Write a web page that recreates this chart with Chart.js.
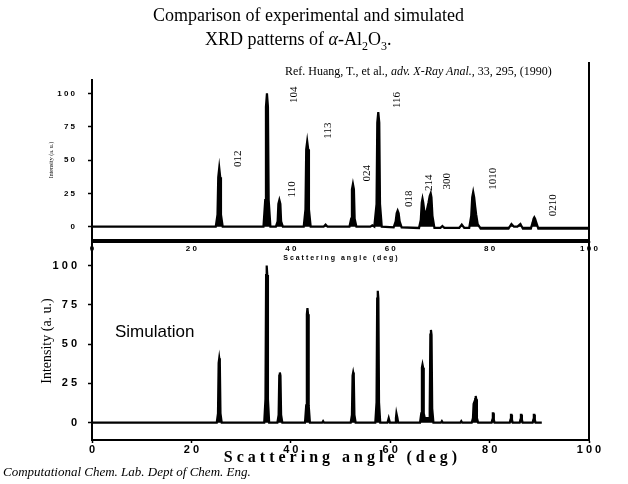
<!DOCTYPE html>
<html>
<head>
<meta charset="utf-8">
<script src="https://cdn.jsdelivr.net/npm/chart.js@4.4.1/dist/chart.umd.min.js"></script>
<style>
  body { margin: 0; background: #fff; }
  #wrap { position: relative; width: 628px; height: 484px; overflow: hidden; }
  canvas { position: absolute; left: 0; top: 0; }
  .txt { position: absolute; white-space: nowrap; color: #000; font-family: "Liberation Serif", "Times New Roman", serif; }
</style>
</head>
<body>
<div id="wrap">
  <canvas id="expChart" width="628" height="484"></canvas>
  <canvas id="simChart" width="628" height="484"></canvas>
  <div class="txt" style="left:153px; top:5px; font-size:18px;">Comparison of experimental and simulated</div>
  <div class="txt" style="left:205px; top:29px; font-size:18px;">XRD patterns of <i>α</i>-Al<sub style="font-size:12px">2</sub>O<sub style="font-size:12px">3</sub>.</div>
  <div class="txt" style="left:285px; top:64px; font-size:12px;">Ref. Huang, T., et al., <i>adv. X-Ray Anal.</i>, 33, 295, (1990)</div>
  <div class="txt" style="left:115px; top:322px; font-size:17px; font-family:'Liberation Sans', Arial, sans-serif;">Simulation</div>
  <div class="txt" style="left:3px; top:464px; font-size:13px; font-style:italic;">Computational Chem. Lab. Dept of Chem. Eng.</div>
</div>
<script>
// experimental pattern (top panel): angle (deg) and intensity (a.u.)
const expAngle = [0,
  24.9, 25.25, 25.4, 25.6, 25.8, 25.95, 26.3,
  34.5, 34.85, 35.0, 35.2, 35.4, 35.55, 35.9,
  37.0, 37.35, 37.5, 37.7, 37.9, 38.05, 38.4,
  42.6, 42.95, 43.1, 43.3, 43.5, 43.65, 44.0,
  46.6, 47.0, 47.4,
  51.8, 52.15, 52.3, 52.5, 52.7, 52.85, 53.2,
  56.0, 56.4, 56.8,
  56.9, 57.25, 57.4, 57.6, 57.8, 57.95, 58.3,
  60.7, 61.1, 61.3, 61.5, 61.7, 61.9, 62.3,
  65.8, 66.15, 66.35, 66.5, 66.65, 66.85, 67.3, 67.7, 67.95, 68.15, 68.3, 68.5, 68.9,
  70.1, 70.5, 70.9,
  73.9, 74.4, 74.9,
  75.9, 76.3, 76.5, 76.7, 76.9, 77.1, 77.3, 77.6, 78.2,
  83.8, 84.4, 84.9, 85.6, 86.2, 86.7,
  88.3, 88.65, 88.85, 89.0, 89.15, 89.4, 89.8,
  100];
const expIntensity = [0,
  0, 9, 37, 44, 37, 9, 0,
  0, 20, 90, 100, 90, 20, 0,
  0, 4, 17, 20, 17, 4, 0,
  0, 13, 58, 64, 58, 13, 0,
  0, 1.5, 0,
  0, 6, 28, 32, 28, 6, 0,
  0, 1, 0,
  0, 17, 78, 86, 78, 17, 0,
  -0.5, 4, 10, 12, 10, 4, -0.5,
  -1, 5, 18, 21, 18, 12, 11, 18, 23, 25, 22, 8, -1,
  -1, 0.5, -1,
  -1, 1.5, -1,
  -1, 8, 22, 26, 22, 15, 9, 2, -1.5,
  -1.5, 2, 0, 0, 2, -1.5,
  -1.5, 3, 6, 7, 6, 3, -1.5,
  -1.5];

// simulated pattern (bottom panel)
const simAngle = [0,
  25.1, 25.35, 25.48, 25.6, 25.72, 25.85, 26.1,
  34.65, 34.9, 35.03, 35.15, 35.27, 35.4, 35.65,
  37.3, 37.55, 37.68, 37.8, 37.92, 38.05, 38.3,
  42.85, 43.1, 43.23, 43.35, 43.47, 43.6, 43.85,
  46.3, 46.5, 46.7,
  52.05, 52.3, 52.43, 52.55, 52.67, 52.8, 53.05,
  57.0, 57.25, 57.38, 57.5, 57.62, 57.75, 58.0,
  59.45, 59.7, 59.95,
  61.0, 61.15, 61.25, 61.35, 61.45, 61.6,
  66.0, 66.25, 66.38, 66.5, 66.62, 66.75, 66.95, 67.85, 67.95, 68.08, 68.2, 68.32, 68.45, 68.7,
  70.2, 70.4, 70.6,
  74.1, 74.3, 74.5,
  76.4, 76.65, 76.78, 76.9, 77.02, 77.1, 77.2, 77.32, 77.45, 77.7,
  80.4, 80.55, 80.65, 80.75, 80.85, 81.0,
  84.05, 84.2, 84.3, 84.4, 84.5, 84.65,
  86.05, 86.2, 86.3, 86.4, 86.5, 86.65,
  88.65, 88.8, 88.9, 89.0, 89.1, 89.25,
  90.5];
const simIntensity = [0,
  0, 6, 38, 41, 38, 6, 0,
  0, 15, 94, 100, 94, 15, 0,
  0, 5, 30, 32, 30, 5, 0,
  0, 11, 69, 73, 69, 11, 0,
  0, 1, 0,
  0, 5, 30, 32, 30, 5, 0,
  0, 13, 79, 84, 79, 13, 0,
  0, 3, 0,
  0, 3, 6, 6, 3, 0,
  0, 6, 35, 37, 35, 6, 3, 3, 9, 56, 59, 56, 9, 0,
  0, 1, 0,
  0, 1, 0,
  0, 3, 12, 13, 10, 15, 17, 15, 3, 0,
  0, 2, 6, 6, 2, 0,
  0, 2, 5, 5, 2, 0,
  0, 2, 5, 5, 2, 0,
  0, 2, 5, 5, 2, 0,
  0];

// Miller index labels on the experimental panel (angle, intensity level)
const hklLabels = ['012', '104', '110', '113', '024', '116', '018', '214', '300', '1010', '0210'];
const hklAngle = [29.4, 40.6, 40.2, 47.5, 55.3, 61.4, 63.8, 67.8, 71.4, 80.7, 92.8];
const hklLevel = [51, 99, 28, 72, 40, 95, 21, 33, 34, 36, 16];

const yTickValues = [0, 25, 50, 75, 100];

const spaced = (v) => String(v).split('').join(' ');
const toPoints = (xs, ys) => xs.map((x, i) => ({ x: x, y: ys[i] }));

const hklPlugin = {
  id: 'hklPlugin',
  afterDatasetsDraw(chart) {
    if (chart.canvas.id !== 'expChart') return;
    const { ctx, scales } = chart;
    ctx.save();
    ctx.fillStyle = '#000';
    ctx.font = '11px "Liberation Serif", serif';
    ctx.textAlign = 'center';
    ctx.textBaseline = 'middle';
    hklLabels.forEach((lab, i) => {
      const px = scales.x.getPixelForValue(hklAngle[i]);
      const py = scales.y.getPixelForValue(hklLevel[i]);
      ctx.save();
      ctx.translate(px, py);
      ctx.rotate(-Math.PI / 2);
      ctx.fillText(lab, 0, 0);
      ctx.restore();
    });
    ctx.restore();
  },
};

// frame lines that Chart.js does not draw by itself
const framePlugin = {
  id: 'framePlugin',
  afterDraw(chart) {
    const { ctx, chartArea } = chart;
    ctx.save();
    ctx.strokeStyle = '#000';
    ctx.lineWidth = 2;
    ctx.beginPath();
    if (chart.canvas.id === 'expChart') {
      ctx.moveTo(chartArea.right, chartArea.top - 18);
      ctx.lineTo(chartArea.right, chartArea.bottom + 5);
      ctx.moveTo(chartArea.left, chartArea.bottom);
      ctx.lineTo(chartArea.left, chartArea.bottom + 18);
    } else {
      ctx.rect(chartArea.left, chartArea.top, chartArea.right - chartArea.left, chartArea.bottom - chartArea.top);
    }
    ctx.stroke();
    ctx.restore();
  },
};

Chart.register(hklPlugin, framePlugin);

function makeChart(id, xs, ys, cfg) {
  return new Chart(document.getElementById(id), {
    type: 'scatter',
    data: {
      datasets: [{
        data: toPoints(xs, ys),
        showLine: true,
        borderColor: '#000',
        backgroundColor: '#000',
        fill: 'origin',
        borderWidth: cfg.lineWidth,
        pointRadius: 0,
        tension: 0,
      }],
    },
    options: {
      responsive: false,
      animation: false,
      layout: { padding: cfg.padding },
      plugins: { legend: { display: false }, tooltip: { enabled: false } },
      scales: {
        x: {
          type: 'linear', min: 0, max: 100,
          afterFit: (s) => { s.height = cfg.xHeight; },
          ticks: {
            stepSize: 20, color: '#000', padding: cfg.xTickPad,
            font: { family: 'Liberation Sans', weight: 'bold', size: cfg.tickSize },
            callback: (v) => spaced(v), maxRotation: 0,
          },
          grid: { drawOnChartArea: false, color: '#000', tickLength: 3, tickWidth: 1.5 },
          border: { display: true, color: '#000', width: 2 },
          title: {
            display: true, text: spaced('Scattering') + '   ' + spaced('angle') + '   ' + spaced('(deg)'),
            color: '#000', font: cfg.xTitleFont, padding: { top: 0, bottom: cfg.xTitlePad },
          },
        },
        y: {
          type: 'linear', min: cfg.yMin, max: cfg.yMax,
          afterFit: (s) => { s.width = 92; },
          afterBuildTicks: (s) => { s.ticks = yTickValues.map((v) => ({ value: v })); },
          ticks: {
            color: '#000', padding: cfg.yTickPad,
            font: { family: 'Liberation Sans', weight: 'bold', size: cfg.tickSize },
            callback: (v) => spaced(v),
          },
          grid: { drawOnChartArea: false, color: '#000', tickLength: 4, tickWidth: 1.5 },
          border: { display: true, color: '#000', width: 2 },
          title: {
            display: true, text: 'Intensity (a. u.)', color: '#000',
            font: cfg.yTitleFont, padding: { top: cfg.yTitlePad, bottom: 0 },
          },
        },
      },
    },
  });
}

makeChart('expChart', expAngle, expIntensity, {
  lineWidth: 2.2,
  padding: { left: 0, right: 39, top: 80, bottom: 214 },
  xHeight: 30, xTickPad: 1, tickSize: 8, xTitlePad: 8,
  xTitleFont: { family: 'Liberation Sans', weight: 'bold', size: 7 },
  yMin: -10, yMax: 110, yTickPad: 13,
  yTitleFont: { family: 'Liberation Serif', size: 6 }, yTitlePad: 48,
});

makeChart('simChart', simAngle, simIntensity, {
  lineWidth: 2.2,
  padding: { left: 0, right: 39, top: 242, bottom: 0 },
  xHeight: 44, xTickPad: 0, tickSize: 11, xTitlePad: 17,
  xTitleFont: { family: 'Liberation Serif', weight: 'bold', size: 16 },
  yMin: -11, yMax: 115, yTickPad: 11,
  yTitleFont: { family: 'Liberation Serif', size: 14 }, yTitlePad: 39,
});
</script>
</body>
</html>
